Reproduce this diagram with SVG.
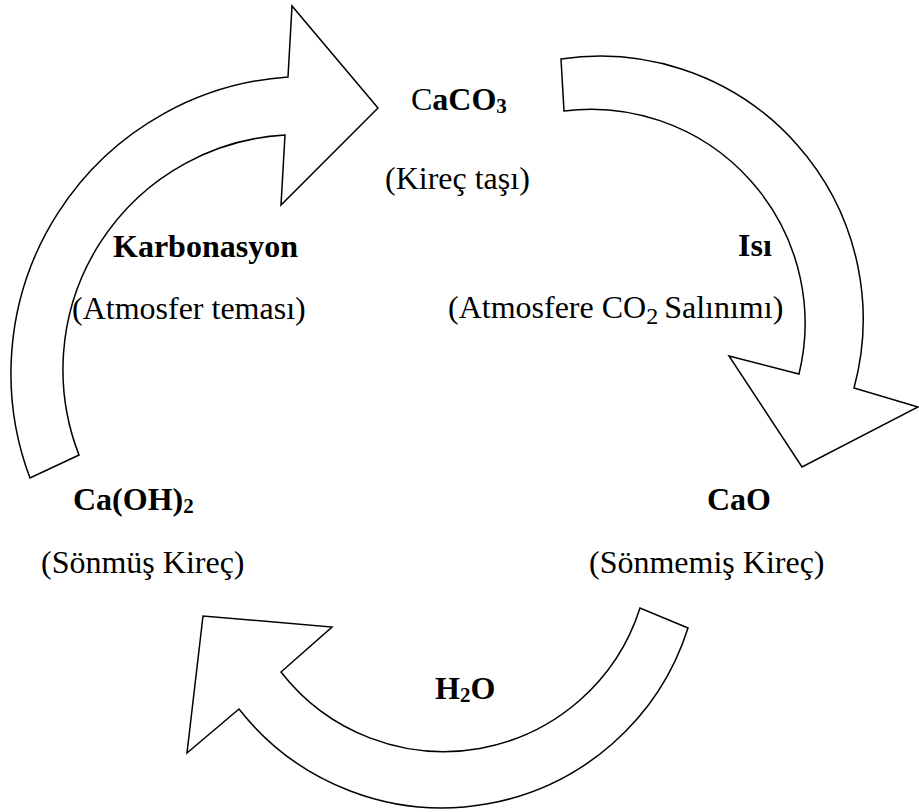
<svg xmlns="http://www.w3.org/2000/svg" width="919" height="812" viewBox="0 0 919 812">
<style>
.arrow{fill:#fff;stroke:#000;stroke-width:1.5;stroke-linejoin:miter}
text{font-family:"Liberation Serif","Times New Roman",serif;font-size:32px;fill:#000}
.b{font-weight:bold}
.sub{font-size:21px}
</style>
<rect width="919" height="812" fill="#fff"/>
<g id="connectors">
<path id="arrow-karbonasyon" class="arrow" d="M30,478 A297,297 0 0 1 288,77 L292,6 L378,108 L281,205 L285,135 A235,235 0 0 0 79,455 Z"/>
<path id="arrow-isi" class="arrow" d="M561,59 A263,263 0 0 1 854,388 L918,407 L802,467 L729,356 L799,374 A214,214 0 0 0 564,111 Z"/>
<path id="arrow-h2o" class="arrow" d="M688,628 A258,258 0 0 1 239,709 L187,753 L203,616 L332,627 L281,672 A206,206 0 0 0 640,608 Z"/>
<g id="label-karbonasyon">
<text class="b" x="113" y="257">Karbonasyon</text>
<text x="72" y="319">(Atmosfer teması)</text>
</g>
<g id="label-isi">
<text class="b" x="738" y="256">Isı</text>
<text x="448" y="318">(Atmosfere CO<tspan font-size="24" dy="6">2</tspan><tspan dy="-6" dx="6">Salınımı)</tspan></text>
</g>
<g id="label-h2o">
<text class="b" x="435" y="699">H<tspan class="sub" dy="3">2</tspan><tspan dy="-3">O</tspan></text>
</g>
</g>
<g id="node-caco3">
<text x="411" y="110">C<tspan class="b">aCO</tspan><tspan class="b sub" dy="3">3</tspan></text>
<text x="385" y="189">(Kireç taşı)</text>
</g>
<g id="node-cao">
<text class="b" x="707" y="510">CaO</text>
<text x="589" y="573">(Sönmemiş Kireç)</text>
</g>
<g id="node-caoh2">
<text class="b" x="73" y="510">Ca(OH)<tspan class="sub" dy="3">2</tspan></text>
<text x="41" y="573">(Sönmüş Kireç)</text>
</g>
</svg>
